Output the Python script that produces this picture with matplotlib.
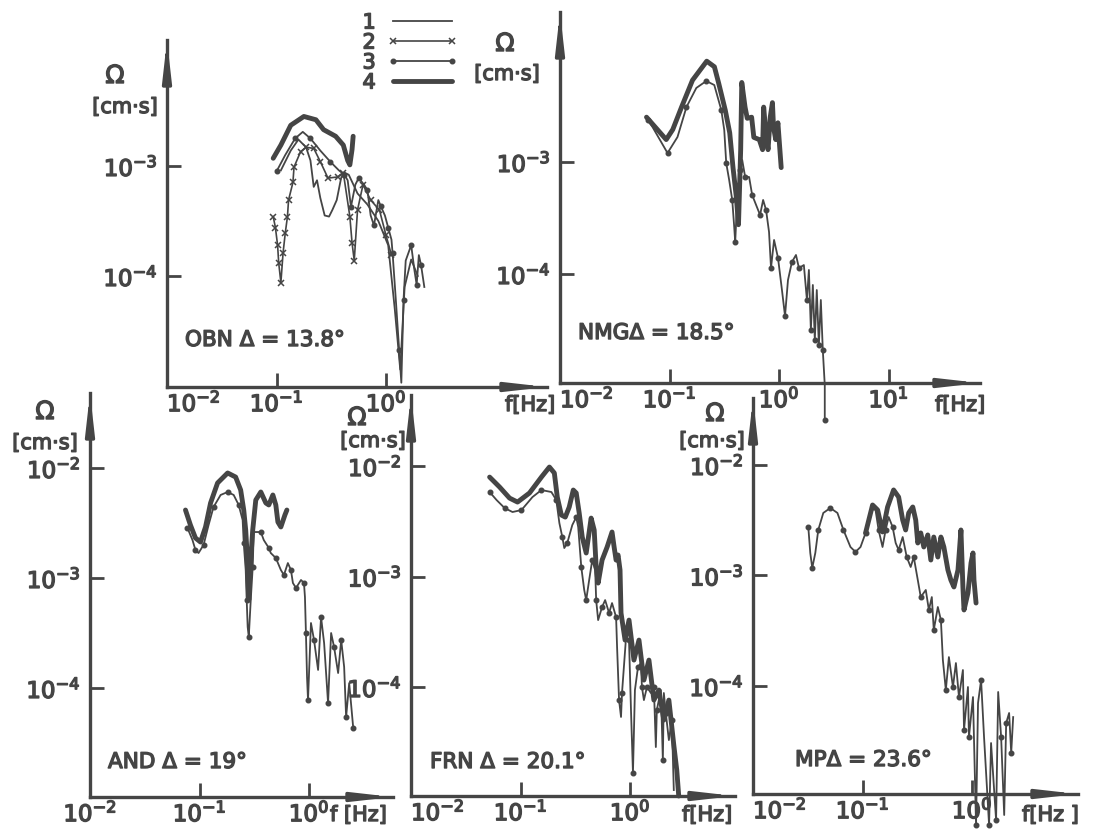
import matplotlib
matplotlib.use("Agg")
import matplotlib.pyplot as plt
import matplotlib.patheffects as pe
from matplotlib.lines import Line2D
import numpy as np

# values, stored as log10(f [Hz]) and log10(Omega [cm*s])
# curve numbers follow the legend: 1 thin, 2 thin with x, 3 thin with dots, 4 thick

# ---- OBN  Delta = 13.8
obn_f4 = [-1.03, -0.96, -0.87, -0.75, -0.64, -0.57, -0.46, -0.39, -0.35, -0.33, -0.31, -0.30]
obn_a4 = [-2.93, -2.81, -2.63, -2.55, -2.58, -2.67, -2.73, -2.81, -2.95, -2.99, -2.85, -2.73]
obn_f3 = [-1.00, -0.92, -0.83, -0.76, -0.69, -0.60, -0.51, -0.43, -0.38, -0.35, -0.32, -0.28,
          -0.25, -0.20, -0.17, -0.14, -0.11, -0.07, -0.05, -0.01, 0.02, 0.05, 0.06, 0.09,
          0.12, 0.14, 0.16, 0.18, 0.23, 0.26, 0.28, 0.30, 0.32, 0.35]
obn_a3 = [-3.05, -2.90, -2.75, -2.69, -2.75, -2.86, -2.96, -3.04, -3.08, -3.13, -3.37, -3.17,
          -3.11, -3.17, -3.22, -3.45, -3.54, -3.31, -3.36, -3.45, -3.56, -3.67, -3.79, -4.22,
          -4.67, -4.97, -4.22, -3.86, -3.72, -3.95, -4.08, -3.81, -3.90, -4.10]
obn_f1 = [-0.96, -0.87, -0.80, -0.73, -0.69, -0.66, -0.63, -0.60, -0.56, -0.52, -0.49, -0.45,
          -0.41, -0.38, -0.34, -0.26, -0.17, -0.07, 0.02, 0.08, 0.13, 0.17, 0.23, 0.29]
obn_a1 = [-3.04, -2.86, -2.76, -2.83, -2.95, -3.19, -3.13, -3.29, -3.45, -3.46, -3.40, -3.31,
          -3.11, -3.06, -3.08, -3.25, -3.35, -3.50, -3.72, -4.30, -4.85, -4.10, -3.85, -4.00]
obn_f2 = [-1.03, -1.01, -0.99, -0.98, -0.96, -0.94, -0.92, -0.90, -0.89, -0.85, -0.84, -0.78,
          -0.73, -0.66, -0.60, -0.53, -0.44, -0.39, -0.33, -0.31, -0.29, -0.26, -0.21, -0.14,
          -0.06, 0.00, 0.05]
obn_a2 = [-3.46, -3.56, -3.72, -3.88, -4.06, -3.79, -3.61, -3.46, -3.31, -3.15, -3.01, -2.87,
          -2.83, -2.84, -2.96, -3.11, -3.10, -3.06, -3.46, -3.70, -3.86, -3.40, -3.17, -3.31,
          -3.40, -3.63, -3.81]

# ---- NMG  Delta = 18.5
nmg_f4 = [-1.21, -1.12, -1.03, -0.97, -0.89, -0.79, -0.66, -0.59, -0.55, -0.49, -0.45, -0.42,
          -0.39, -0.37, -0.35, -0.34, -0.31, -0.29, -0.25, -0.23, -0.18, -0.15, -0.14, -0.12,
          -0.10, -0.08, -0.06, -0.05, -0.03, -0.01, 0.02]
nmg_a4 = [-2.60, -2.70, -2.80, -2.71, -2.51, -2.27, -2.10, -2.15, -2.30, -2.54, -2.74, -3.05,
          -3.31, -3.56, -2.89, -2.29, -2.51, -2.61, -2.60, -2.78, -2.80, -2.89, -2.51, -2.74,
          -2.89, -2.60, -2.47, -2.69, -2.80, -2.65, -3.05]
nmg_f3 = [-1.200, -1.155, -1.018, -0.927, -0.845, -0.755, -0.664, -0.591, -0.527, -0.500,
          -0.482, -0.455, -0.427, -0.409, -0.400, -0.382, -0.355, -0.336, -0.309, -0.273,
          -0.245, -0.209, -0.173, -0.145, -0.118, -0.091, -0.073, -0.045, -0.009, 0.027,
          0.055, 0.082, 0.118, 0.155, 0.182, 0.227, 0.255, 0.273, 0.291, 0.309,
          0.327, 0.345, 0.364, 0.382, 0.400, 0.418, 0.418]
nmg_a3 = [-2.625, -2.688, -2.920, -2.777, -2.509, -2.339, -2.277, -2.313, -2.536, -2.714,
          -3.009, -3.161, -3.339, -3.580, -3.714, -3.339, -3.071, -2.982, -3.134, -3.134,
          -3.295, -3.384, -3.473, -3.339, -3.429, -3.625, -3.946, -3.696, -3.857, -4.143,
          -4.375, -4.054, -3.893, -3.830, -3.946, -3.920, -4.232, -3.964, -4.500, -4.098,
          -4.589, -4.143, -4.634, -4.232, -4.679, -4.991, -5.304]

# ---- AND  Delta = 19
and_f4 = [-1.128, -1.083, -1.037, -0.991, -0.945, -0.899, -0.835, -0.743, -0.670, -0.624,
          -0.596, -0.578, -0.569, -0.550, -0.541, -0.514, -0.486, -0.440, -0.394, -0.367,
          -0.330, -0.303, -0.284, -0.257, -0.220, -0.202]
and_a4 = [-2.382, -2.518, -2.636, -2.673, -2.536, -2.318, -2.136, -2.045, -2.082, -2.200,
          -2.382, -2.564, -2.718, -3.200, -2.973, -2.564, -2.291, -2.218, -2.318, -2.336,
          -2.245, -2.336, -2.491, -2.536, -2.427, -2.382]
and_f3 = [-1.110, -1.064, -1.037, -1.009, -0.963, -0.917, -0.872, -0.807, -0.743, -0.688,
          -0.642, -0.606, -0.596, -0.578, -0.569, -0.560, -0.550, -0.532, -0.514, -0.505,
          -0.440, -0.413, -0.367, -0.349, -0.303, -0.257, -0.229, -0.193, -0.165, -0.147,
          -0.119, -0.073, -0.046, -0.037, -0.028, -0.018, -0.009, 0.018, 0.046, 0.083,
          0.110, 0.138, 0.174, 0.202, 0.229, 0.266, 0.294, 0.321, 0.339, 0.367, 0.404]
and_a3 = [-2.545, -2.655, -2.745, -2.773, -2.700, -2.518, -2.355, -2.245, -2.218, -2.245,
          -2.336, -2.473, -2.682, -2.927, -3.200, -3.445, -3.536, -3.200, -2.900, -2.582,
          -2.582, -2.655, -2.727, -2.773, -2.818, -2.927, -2.973, -2.864, -2.927, -3.045,
          -3.091, -3.018, -3.045, -3.173, -3.500, -3.900, -4.109, -3.409, -3.564, -3.836,
          -3.355, -3.591, -4.136, -3.500, -3.627, -3.864, -3.564, -3.809, -4.264, -3.955, -4.364]

# ---- FRN  Delta = 20.1
frn_f4 = [-1.282, -1.191, -1.100, -1.027, -0.918, -0.809, -0.736, -0.691, -0.664, -0.627,
          -0.591, -0.555, -0.518, -0.491, -0.464, -0.436, -0.400, -0.355, -0.327, -0.309,
          -0.291, -0.255, -0.209, -0.164, -0.145, -0.127, -0.109, -0.091, -0.082, -0.045,
          -0.009, 0.036, 0.082, 0.127, 0.173, 0.218, 0.264, 0.309, 0.355, 0.400, 0.427, 0.445]
frn_a4 = [-2.100, -2.190, -2.290, -2.326, -2.244, -2.100, -2.009, -2.063, -2.281, -2.443,
          -2.462, -2.371, -2.217, -2.244, -2.425, -2.643, -2.787, -2.471, -2.579, -2.914,
          -3.059, -2.851, -2.733, -2.597, -2.733, -2.851, -2.805, -2.941, -3.330, -3.575,
          -3.394, -3.756, -3.575, -3.937, -3.756, -4.118, -4.027, -4.299, -4.118, -4.525,
          -4.751, -4.986]
frn_f3 = [-1.282, -1.218, -1.145, -1.073, -0.991, -0.891, -0.809, -0.718, -0.673, -0.645,
          -0.618, -0.600, -0.573, -0.527, -0.491, -0.473, -0.445, -0.418, -0.400, -0.373,
          -0.345, -0.318, -0.309, -0.291, -0.255, -0.227, -0.191, -0.164, -0.127, -0.118,
          -0.100, -0.082, -0.073, -0.036, -0.009, 0.009, 0.027, 0.045, 0.073, 0.100,
          0.109, 0.127, 0.155, 0.191, 0.218, 0.236, 0.245, 0.282, 0.300, 0.309,
          0.327, 0.355, 0.382, 0.400]
frn_a3 = [-2.235, -2.308, -2.380, -2.416, -2.398, -2.281, -2.217, -2.235, -2.308, -2.516,
          -2.643, -2.742, -2.697, -2.534, -2.462, -2.552, -2.914, -3.122, -3.213, -3.032,
          -2.851, -2.941, -3.213, -3.394, -3.276, -3.213, -3.330, -3.240, -3.367, -3.638,
          -4.118, -4.271, -4.054, -3.548, -3.575, -4.208, -4.778, -4.027, -3.819, -3.783,
          -4.000, -4.118, -4.000, -4.054, -4.000, -4.543, -4.208, -4.027, -4.661, -4.054,
          -4.235, -4.480, -4.299, -4.932]

# ---- MP  Delta = 23.6
mp_f4 = [-0.972, -0.908, -0.862, -0.817, -0.771, -0.716, -0.670, -0.633, -0.606, -0.578,
         -0.541, -0.514, -0.495, -0.468, -0.440, -0.404, -0.376, -0.349, -0.312, -0.284,
         -0.257, -0.220, -0.193, -0.165, -0.128, -0.101, -0.083, -0.073, -0.037, -0.009,
         0.009, 0.018, 0.037]
mp_a4 = [-2.615, -2.362, -2.407, -2.606, -2.380, -2.226, -2.290, -2.498, -2.588, -2.434,
         -2.380, -2.498, -2.706, -2.615, -2.742, -2.633, -2.860, -2.652, -2.833, -2.652,
         -2.742, -2.950, -3.041, -3.104, -2.950, -2.588, -3.104, -3.312, -3.158, -2.887,
         -2.796, -3.041, -3.249]
mp_f3 = [-1.495, -1.477, -1.459, -1.431, -1.404, -1.358, -1.294, -1.229, -1.174, -1.110,
         -1.064, -1.018, -0.972, -0.945, -0.908, -0.881, -0.853, -0.817, -0.789, -0.761,
         -0.725, -0.697, -0.670, -0.633, -0.596, -0.560, -0.532, -0.495, -0.468, -0.422,
         -0.394, -0.367, -0.349, -0.312, -0.284, -0.266, -0.239, -0.211, -0.174, -0.147,
         -0.119, -0.083, -0.073, -0.037, -0.028, 0.009, 0.037, 0.055, 0.083, 0.110,
         0.156, 0.174, 0.220, 0.239, 0.266, 0.294, 0.312, 0.339, 0.358, 0.376]
mp_a3 = [-2.561, -2.796, -2.932, -2.796, -2.588, -2.434, -2.389, -2.434, -2.588, -2.742,
         -2.787, -2.742, -2.615, -2.498, -2.380, -2.407, -2.588, -2.742, -2.588, -2.471,
         -2.561, -2.706, -2.769, -2.652, -2.833, -2.923, -2.833, -3.041, -3.195, -3.131,
         -3.312, -3.195, -3.493, -3.285, -3.403, -3.765, -4.036, -3.738, -4.009, -3.792,
         -4.100, -3.855, -4.398, -4.009, -4.462, -4.100, -5.258, -4.154, -3.946, -4.462,
         -5.258, -4.516, -5.213, -4.054, -4.462, -5.167, -4.335, -4.244, -4.606, -4.281]

stations = ["OBN Δ = 13.8°", "NMGΔ = 18.5°", "AND Δ = 19°", "FRN Δ = 20.1°", "MPΔ = 23.6°"]
legend_labels = ["1", "2", "3", "4"]

ink = "#454545"
plt.rcParams["font.family"] = ["DejaVu Sans"]
plt.rcParams["mathtext.fontset"] = "dejavusans"
heavy = [pe.withStroke(linewidth=1.0, foreground=ink)]

W, H = 1108, 839
fig = plt.figure(figsize=(W / 100, H / 100), dpi=100)
fig.patch.set_facecolor("white")

styles = {
    1: dict(lw=1.3),
    2: dict(lw=1.2, marker="x", ms=5, mew=1.1),
    3: dict(lw=1.3, marker="o", ms=3.3, markevery=2),
    4: dict(lw=3.5, solid_capstyle="round"),
}

# pixel box of each panel: y-axis x, arrow top, arrow right end, x-axis y
panels = [
    dict(box=(167, 40, 547, 387), ylo=-5.009, yhi=-1.855, xt=[-2, -1, 0], yt=[-3, -4],
         first_left=True,
         curves=[(1, obn_f1, obn_a1), (2, obn_f2, obn_a2), (3, obn_f3, obn_a3), (4, obn_f4, obn_a4)],
         name=(185, 340), fhz=(505, 405, "f[Hz]"), om=(115, 76, 125, 107)),
    dict(box=(560, 12, 980, 383), ylo=-4.973, yhi=-1.661, xt=[-2, -1, 0, 1], yt=[-3, -4],
         first_left=True,
         curves=[(3, nmg_f3, nmg_a3), (4, nmg_f4, nmg_a4)],
         name=(578, 333), fhz=(935, 405, "f[Hz]"), om=(505, 44, 507, 74)),
    dict(box=(90, 393, 393, 797), ylo=-4.991, yhi=-1.318, xt=[-2, -1, 0], yt=[-2, -3, -4],
         first_left=False,
         curves=[(3, and_f3, and_a3), (4, and_f4, and_a4)],
         name=(108, 762), fhz=(330, 815, "f [Hz]"), om=(45, 412, 45, 443)),
    dict(box=(411, 395, 735, 796), ylo=-4.986, yhi=-1.357, xt=[-2, -1, 0], yt=[-2, -3, -4],
         first_left=True,
         curves=[(3, frn_f3, frn_a3), (4, frn_f4, frn_a4)],
         name=(430, 762), fhz=(682, 815, "f[Hz]"), om=(357, 418, 373, 441)),
    dict(box=(753, 398, 1078, 794), ylo=-4.977, yhi=-1.394, xt=[-2, -1, 0], yt=[-2, -3, -4],
         first_left=True,
         curves=[(3, mp_f3, mp_a3), (4, mp_f4, mp_a4)],
         name=(795, 760), fhz=(1022, 815, "f[Hz ]"), om=(715, 414, 712, 441)),
]
decade_px = 109.5


def ftext(x, y, s, **kw):
    fig.text(x / W, 1 - y / H, s, color=ink, path_effects=heavy, **kw)


for p, station in zip(panels, stations):
    xl, yt, xr, yb = p["box"]
    ax = fig.add_axes([xl / W, 1 - yb / H, (xr - xl) / W, (yb - yt) / H])
    ax.set_xscale("log")
    ax.set_yscale("log")
    ax.set_xlim(10 ** -2, 10 ** (-2 + (xr - xl) / decade_px))
    ax.set_ylim(10 ** p["ylo"], 10 ** p["yhi"])
    ax.patch.set_alpha(0)
    for s in ("top", "right"):
        ax.spines[s].set_visible(False)
    for s in ("left", "bottom"):
        ax.spines[s].set_color(ink)
        ax.spines[s].set_linewidth(2.4)
    ax.minorticks_off()
    ax.set_xticks([10.0 ** e for e in p["xt"]])
    ax.set_xticklabels(["$10^{%d}$" % e for e in p["xt"]])
    ax.set_yticks([10.0 ** e for e in p["yt"]])
    ax.set_yticklabels(["$10^{%d}$" % e for e in p["yt"]])
    ax.tick_params(direction="in", length=10, width=2, colors=ink, labelsize=16.5)
    ax.tick_params(axis="y", pad=7)
    ax.tick_params(axis="x", pad=3)
    for t in ax.get_xticklabels() + ax.get_yticklabels():
        t.set_path_effects(heavy)
    if p["first_left"]:
        ax.get_xticklabels()[0].set_ha("left")

    arrow = dict(arrowstyle="-|>,head_length=1.6,head_width=0.18", mutation_scale=14,
                 lw=2.4, color=ink, shrinkA=0, shrinkB=0)
    ax.annotate("", xy=(1, 0), xytext=(0.9, 0), xycoords="axes fraction", arrowprops=arrow)
    ax.annotate("", xy=(0, 1), xytext=(0, 0.92), xycoords="axes fraction", arrowprops=arrow)

    for kind, lf, la in p["curves"]:
        ax.plot(10 ** np.array(lf), 10 ** np.array(la), color=ink, clip_on=False,
                **styles[kind])

    ftext(p["name"][0], p["name"][1], station, fontsize=15.5, ha="left", va="center")
    fx, fy, fs = p["fhz"]
    ftext(fx, fy, fs, fontsize=15, ha="left", va="center")
    ox, oy, cx, cy = p["om"]
    ftext(ox, oy, "Ω", fontsize=18, ha="center", va="center")
    ftext(cx, cy, "[cm·s]", fontsize=15, ha="center", va="center")

handles = [Line2D([], [], color=ink, **styles[k]) for k in (1, 2, 3, 4)]
handles[2].set_markevery(None)
leg = fig.legend(handles, legend_labels, loc="upper left", bbox_to_anchor=(350 / W, 1.0),
                 frameon=False, markerfirst=False, numpoints=2, handlelength=3.4,
                 handletextpad=0.55, labelspacing=0.0, borderpad=0.1, fontsize=15,
                 labelcolor=ink)
for t in leg.get_texts():
    t.set_path_effects(heavy)

fig.savefig("out.png", dpi=100, facecolor="white")
